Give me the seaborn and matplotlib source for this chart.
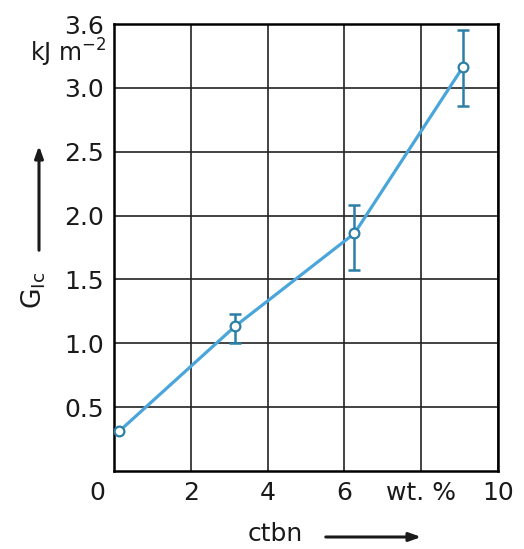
import matplotlib
matplotlib.use("Agg")
import matplotlib.pyplot as plt
import matplotlib.transforms as mtransforms
import seaborn as sns
import pandas as pd

# data
ctbn = [0.13, 3.16, 6.26, 9.08]
g_ic = [0.31, 1.135, 1.86, 3.16]
err_low = [0.0, 0.135, 0.29, 0.30]
err_high = [0.0, 0.095, 0.22, 0.29]
x_ticks = [0, 2, 4, 6, 8, 10]
x_labels = ["0", "2", "4", "6", "wt. %", "10"]
y_ticks = [0.5, 1.0, 1.5, 2.0, 2.5, 3.0, 3.5]
y_labels = ["0.5", "1.0", "1.5", "2.0", "2.5", "3.0", "3.6"]

sns.set_style("white")
plt.rcParams["font.family"] = ["DejaVu Sans"]
plt.rcParams["mathtext.default"] = "regular"

W, H = 524, 549
fig = plt.figure(figsize=(W / 100, H / 100), dpi=100)
ax = fig.add_axes([114 / W, 1 - 471 / H, (498 - 114) / W, (471 - 24) / H])

df = pd.DataFrame({"ctbn": ctbn, "G": g_ic})
line_c = "#4aa6da"
err_c = "#2c7fa6"
txt_c = "#1a1a1a"

ax.errorbar(ctbn[1:], g_ic[1:], yerr=[err_low[1:], err_high[1:]], fmt="none",
            ecolor=err_c, elinewidth=1.8, capsize=4, capthick=1.8, zorder=3)
sns.lineplot(data=df, x="ctbn", y="G", ax=ax, color=line_c, linewidth=2.3,
             marker="o", markersize=7, markerfacecolor="white",
             markeredgecolor=err_c, markeredgewidth=1.6, zorder=4)

ax.set_xlim(0, 10)
ax.set_ylim(0, 3.5)
ax.set_xticks(x_ticks)
ax.set_xticklabels(x_labels)
ax.set_yticks(y_ticks)
ax.set_yticklabels(y_labels)
ax.set_xlabel("")
ax.set_ylabel("")
ax.grid(True, color="#222222", linewidth=1.2)
ax.set_axisbelow(True)
for s in ax.spines.values():
    s.set_color("black")
    s.set_linewidth(1.8)
    s.set_visible(True)
ax.tick_params(length=0, labelsize=18, colors=txt_c)
ax.tick_params(axis="x", pad=7)
ax.tick_params(axis="y", pad=7)

# shift the "0" label to the left
xl = ax.get_xticklabels()
off = mtransforms.ScaledTranslation(-17 / 100, 0, fig.dpi_scale_trans)
xl[0].set_transform(xl[0].get_transform() + off)

# unit label
fig.text(106 / W, 1 - 53 / H, "kJ m$^{-2}$", ha="right", va="center",
         fontsize=17, color=txt_c)

# y-axis label and arrow
fig.text(34 / W, 1 - 290 / H, "G$_{Ic}$", ha="center", va="center",
         rotation=90, fontsize=19, color=txt_c)
fig.add_artist(matplotlib.patches.FancyArrowPatch(
    (39 / W, 1 - 253 / H), (39 / W, 1 - 143 / H), transform=fig.transFigure,
    arrowstyle="-|>,head_length=7,head_width=2.5", color=txt_c, linewidth=2.2))

# x-axis label and arrow
fig.text(275 / W, 1 - 534 / H, "ctbn", ha="center", va="center",
         fontsize=18, color=txt_c)
fig.add_artist(matplotlib.patches.FancyArrowPatch(
    (323 / W, 1 - 537 / H), (424 / W, 1 - 537 / H), transform=fig.transFigure,
    arrowstyle="-|>,head_length=7,head_width=2.5", color=txt_c, linewidth=2.2))

fig.savefig("out.png", dpi=100)
